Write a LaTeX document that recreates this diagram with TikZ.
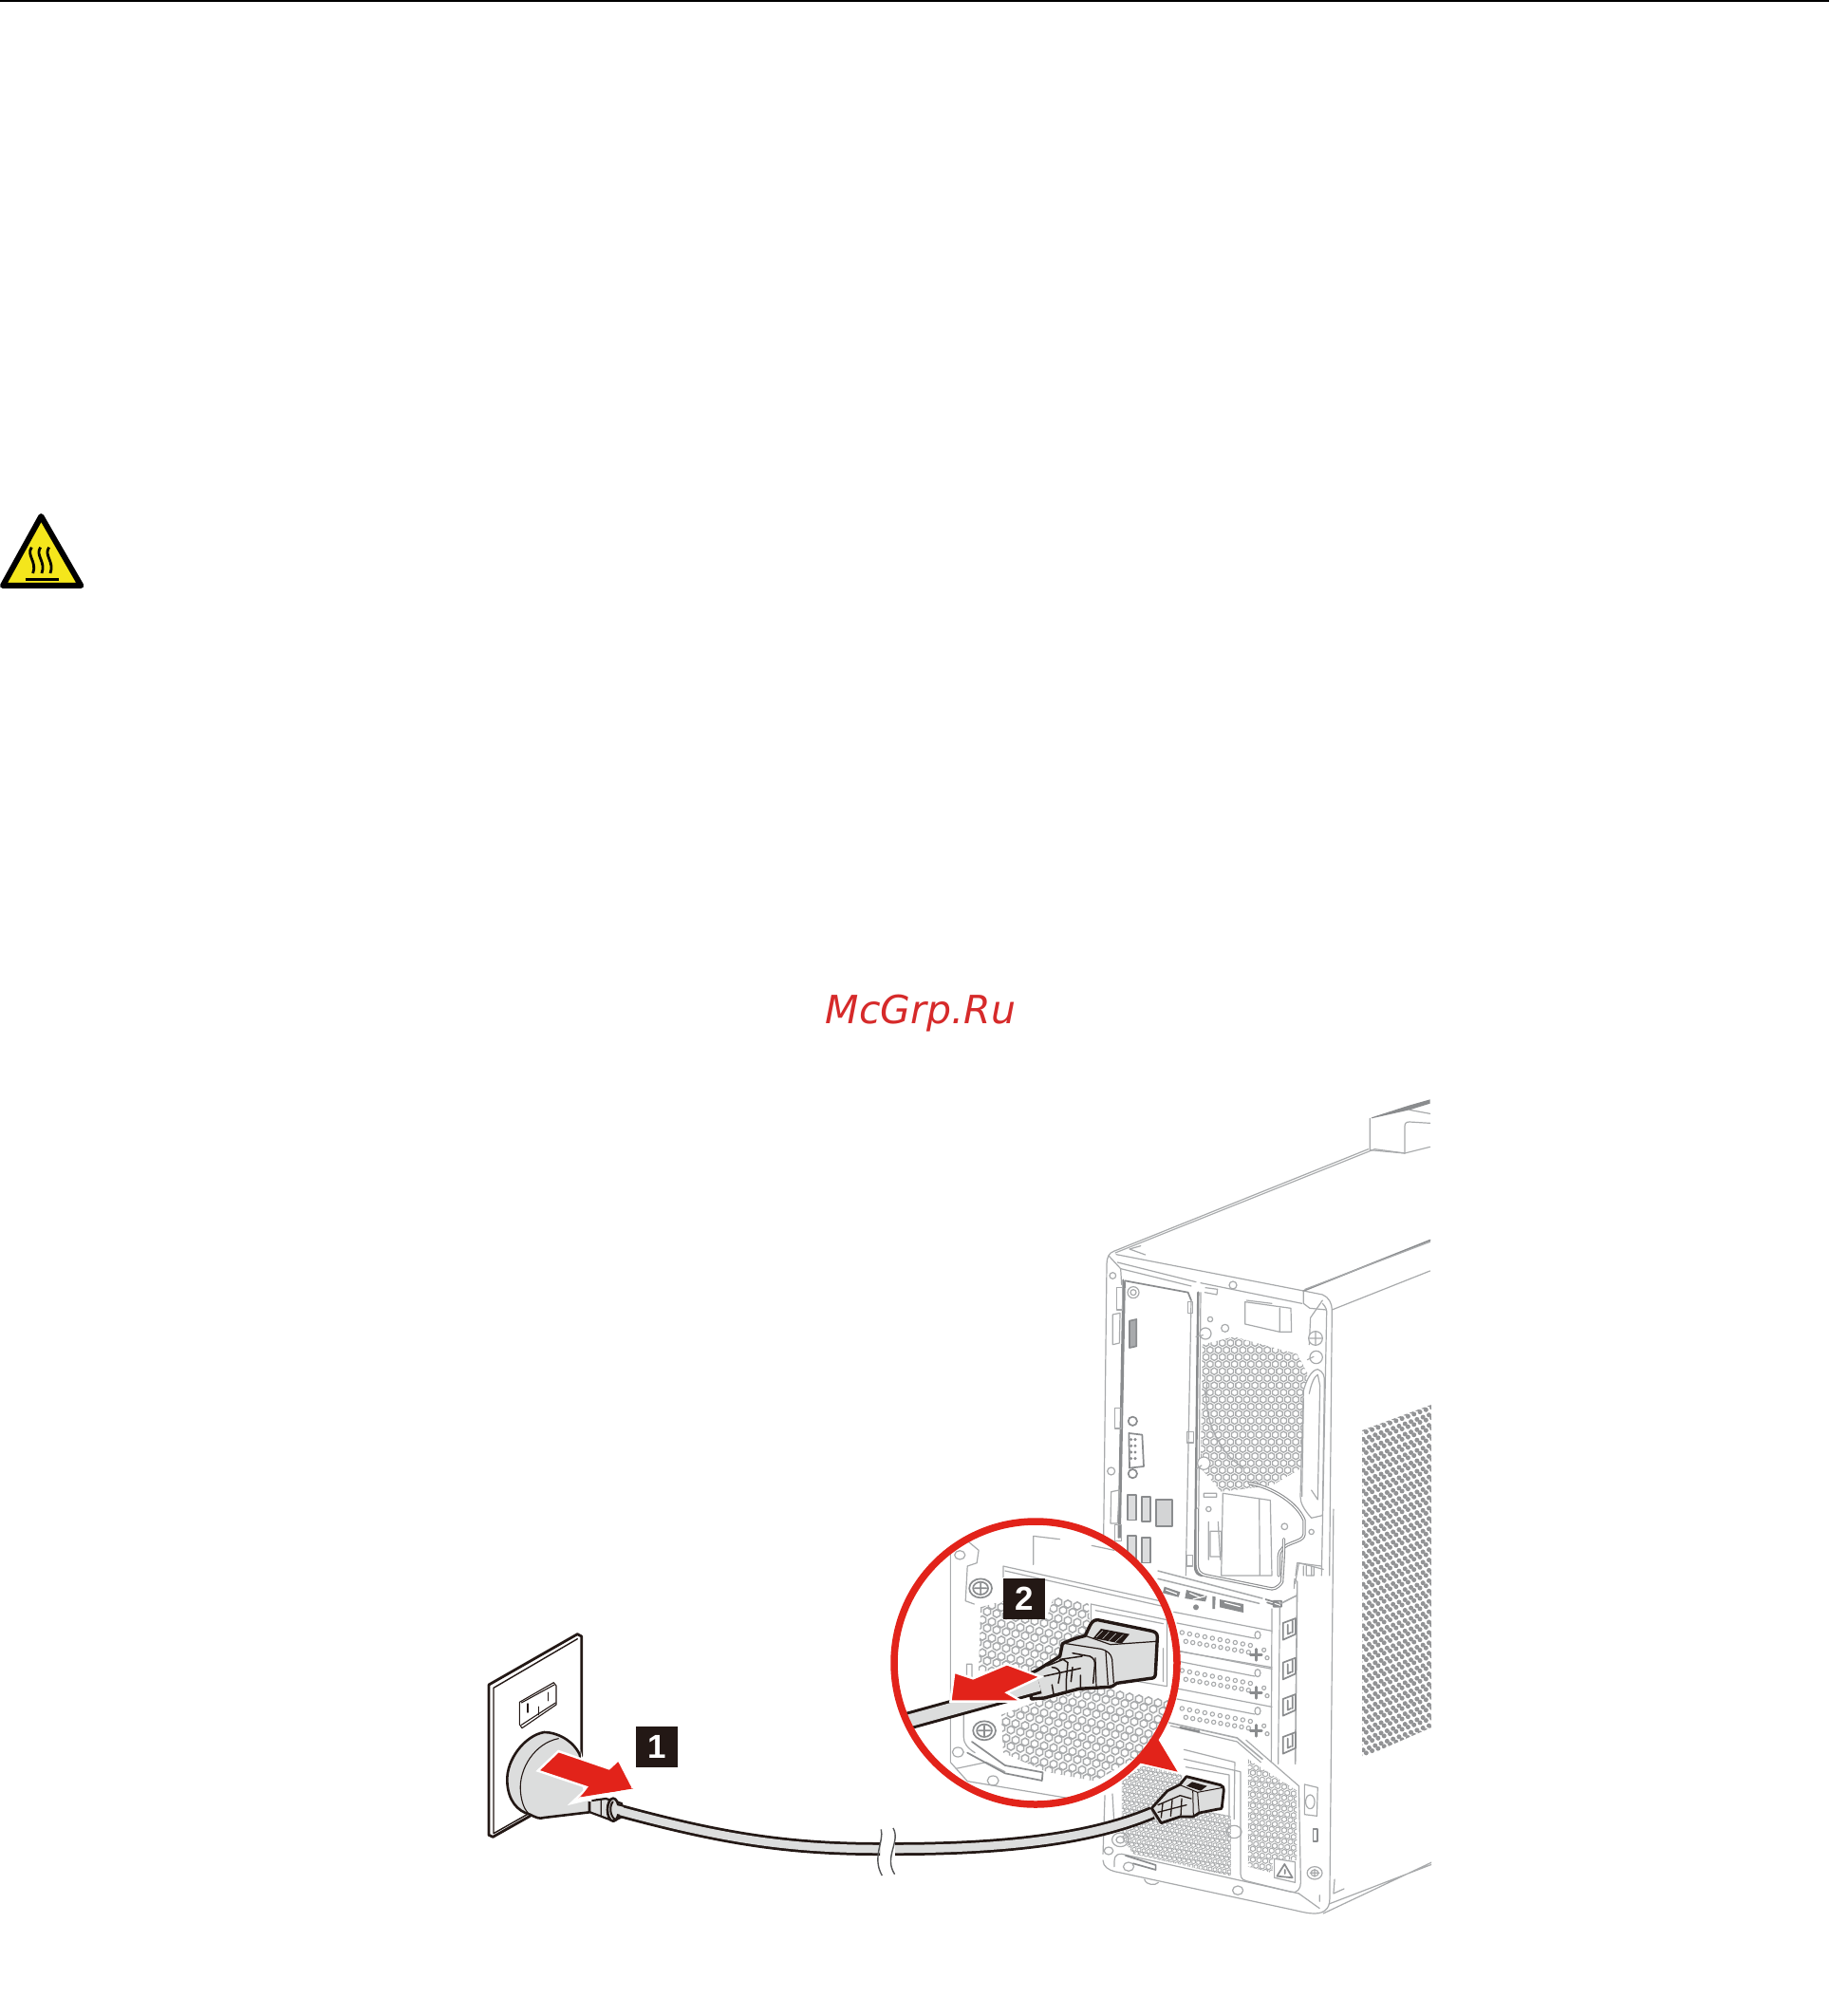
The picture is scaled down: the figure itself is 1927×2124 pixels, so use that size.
\documentclass[tikz,border=0pt]{standalone}
\usepackage{fontspec}
\newfontfamily\wmfont{DejaVu Sans}
\newfontfamily\numfont{Liberation Sans}
\definecolor{tl}{HTML}{A8AAAC}
\definecolor{tld}{HTML}{8A8C8E}
\definecolor{plg}{HTML}{DCDDDD}
\definecolor{redA}{HTML}{E2231A}
\definecolor{ink}{HTML}{231815}
\definecolor{wm}{HTML}{D62A2A}
\definecolor{warn}{HTML}{F4E61C}
\tikzset{
 Z1/.style={x=0.3333pt,y=-0.3333pt,shift={(0pt,-520pt)}},
 Z2/.style={x=0.3333pt,y=-0.3333pt,shift={(1140pt,-1140pt)}},
 Z3/.style={x=0.3968pt,y=-0.3333pt,shift={(920pt,-1590pt)}},
 Z4/.style={x=0.3333pt,y=-0.3333pt,shift={(490pt,-1700pt)}},
 Z5/.style={x=0.3333pt,y=-0.3333pt,shift={(1080pt,-1690pt)}},
 Z6/.style={x=0.3333pt,y=-0.3333pt,shift={(1220pt,-1640pt)}},
 Z7/.style={x=0.3333pt,y=-0.3333pt,shift={(1200pt,-1850pt)}},
 thin gray/.style={draw=tl,line width=1.2pt,line join=round,line cap=round},
 heavy gray/.style={draw=tld,line width=1.7pt,line join=round,line cap=round},
 ink line/.style={draw=ink,line width=2.2pt,line join=round,line cap=round},
 badge/.style={fill=ink,text=white,minimum width=44pt,minimum height=43pt,inner sep=0pt,font=\numfont\bfseries\fontsize{35}{35}\selectfont},
}
% x0,y0,cols,rows,spacing,slope,colour
\newcommand{\hexfield}[7]{%
 \pgfmathsetmacro\hr{#5*0.42}%
 \pgfmathsetmacro\hw{max(0.85,#5*0.15)}%
 \foreach \ci in {0,...,#3}{\foreach \rj in {0,...,#4}{%
  \pgfmathsetmacro\hx{#1+\ci*#5+0.5*#5*mod(\rj,2)}%
  \pgfmathsetmacro\hy{#2+\rj*#5*0.866+#6*\ci*#5}%
  \draw[#7,line width=\hw pt] (\hx,\hy) +(30:\hr)--+(90:\hr)--+(150:\hr)--+(210:\hr)--+(270:\hr)--+(330:\hr)--cycle;%
 }}}
\newcommand{\dotfield}[7]{%
 \foreach \ci in {0,...,#3}{\foreach \rj in {0,...,#4}{%
  \pgfmathsetmacro\hx{#1+\ci*#5+0.5*#5*mod(\rj,2)}%
  \pgfmathsetmacro\hy{#2+\rj*#5*0.866+#6*\ci*#5}%
  \fill[#7] (\hx,\hy) circle (2.5);%
 }}}
\begin{document}
\begin{tikzpicture}[x=1pt,y=-1pt]
\useasboundingbox (0,0) rectangle (1927,2124);
\fill[white] (0,0) rectangle (1927,2124);
\fill[black] (0,0) rectangle (1927,1.6);
% warning sign
\begin{scope}[Z1]
 \draw[fill=warn,draw=black,line width=6pt,line join=round] (130,72)--(9,291)--(256,291)--cycle;
 \draw[black,line width=3pt] (80,272)--(185,272);
 \foreach \sx in {100,128,155}{
  \draw[black,line width=2.8pt] (\sx,170) .. controls (\sx-18,195) and (\sx+18,215) .. (\sx+4,252);
 }
\end{scope}
% watermark
\node[text=wm,inner sep=0pt,font=\wmfont\itshape\fontsize{41}{48}\selectfont] (mark) at (970,1068) {McGrp.Ru};
% tower
\begin{scope}
 \clip (0,0) rectangle (1508,2124);
 % side grille
 \begin{scope}
  \clip (1435,1507)--(1508,1480)--(1508,1820)--(1435,1852)--cycle;
  \dotfield{1433}{1500}{12}{66}{6.3}{-0.37}{tld!75!tl}
 \end{scope}
 % fan mesh
 \begin{scope}
  \clip[Z2] (380,830)--(480,805)--(680,860)--(712,920)--(695,1220)--(600,1275)--(440,1295)--(375,1220)--cycle;
  \hexfield{1262}{1400}{16}{24}{8.6}{0.0}{tl}
 \end{scope}
 % PSU rear mesh
 \begin{scope}
  \clip[Z3] (660,860)--(715,810)--(820,840)--(820,940)--(950,970)--(950,1160)--(690,1090)--(660,1040)--cycle;
  \hexfield{1175}{1850}{24}{34}{5.0}{0.15}{tl}
 \end{scope}
 \begin{scope}
  \clip[Z3] (995,790)--(1125,890)--(1125,1110)--(1060,1105)--(1060,1150)--(995,1130)--cycle;
  \hexfield{1310}{1850}{12}{26}{6.6}{0.1}{tl}
 \end{scope}
 % card slots
 \begin{scope}[Z6]
  \foreach \sy in {0,120,240}{
   \foreach \i in {0,...,9}{
    \draw[thin gray,line width=1.1pt] (76+\i*24,240+\sy+\i*4.5) circle (6.5);
    \draw[thin gray,line width=1.1pt] (88+\i*22,268+\sy+\i*3.8) circle (6.5);
   }
   \draw[heavy gray,line width=2.4pt] (292,310+\sy)--(328,310+\sy) (310,292+\sy)--(310,328+\sy);
   \draw[thin gray] (335,295+\sy) circle (6) (345,320+\sy) circle (6);
   \draw[thin gray] (50,175+\sy)--(360,235+\sy) (60,210+\sy)--(305,258+\sy) (315,248+\sy) ellipse (9 and 12);
  }
  \draw[thin gray] (70,300)--(360,350);
  % rail blobs
  \draw[thin gray,line width=1.5pt] (0,45)--(330,132) (0,70)--(320,148);
  \fill[tld] (90,105)--(155,125)--(150,142)--(85,132)--cycle (195,135)--(270,150)--(270,177)--(195,160)--cycle (20,95)--(70,112)--(65,128)--(15,115)--cycle (172,125)--(182,127)--(180,165)--(172,165)--cycle (120,160) circle (9);
  \draw[white,line width=1.2pt] (100,115)--(135,130) (110,135)--(150,125) (210,145)--(260,158) (25,105)--(60,118);
  \draw[heavy gray] (340,135)--(390,150) (345,145)--(385,158) (365,140) rectangle (390,158);
  % column
  \draw[thin gray] (360,165)--(358,650) (385,160)--(380,655);
  \draw[thin gray,line width=1.6pt] (440,80)--(434,655) (385,150)--(440,122);
  \draw[thin gray] (430,100)--(432,70)--(440,80);
  \foreach \cy in {195,320,435,555}{
   \draw[heavy gray] (395,\cy+15)--(435,\cy)--(435,\cy+50)--(395,\cy+68)--cycle (410,\cy+20)--(410,\cy+50)--(420,\cy+45) (425,\cy+8)--(425,\cy+45);
  }
  \draw[thin gray,line width=1.6pt] (35,525)--(250,573)--(330,640);
  \draw[thin gray] (40,535)--(250,585)--(325,650);
  \draw[heavy gray,line width=2.2pt] (70,540)--(130,553);
 \end{scope}
 \begin{scope}[Z2]
  % handle top
  \fill[tld] (915,112)--(1030,75)--(1100,55)--(1100,68)--(1035,88)--(915,115)--cycle;
  \draw[thin gray] (910,115)--(910,215)--(1020,225)--(1100,205);
  \draw[thin gray] (1020,225)--(1020,140) .. controls (1020,130) and (1025,126) .. (1035,126)--(1100,130);
  \draw[thin gray] (1035,88)--(1100,100);
  % upper outline
  \draw[thin gray] (100,535)--(905,212) (105,540)--(925,212)--(1020,225);
  \draw[thin gray] (150,528)--(200,546) (150,528)--(185,518);
  \draw[thin gray] (100,535) .. controls (85,540) and (78,555) .. (78,575)--(68,1440);
  \draw[thin gray] (108,545)--(700,660)--(700,700)--(720,715)--(772,720);
  \draw[thin gray] (112,570)--(360,632) (122,590)--(345,645);
  \draw[thin gray] (375,635)--(695,700);
  \draw[heavy gray] (700,660)--(1100,500);
  \draw[thin gray] (705,655)--(1100,505) (790,720)--(1100,597);
  \draw[thin gray] (700,660)--(760,672) .. controls (780,680) and (790,700) .. (790,720)--(782,1560);
  \draw[thin gray] (760,700) .. controls (770,710) and (775,720) .. (773,735)--(757,1560);
  \draw[thin gray] (760,690)--(722,745)--(718,830) (85,550)--(122,590)--(125,640);
  % IO panel
  \draw[heavy gray] (130,625)--(115,1440) (135,632)--(120,1440);
  \draw[heavy gray] (135,628)--(335,665)--(345,690);
  \draw[thin gray] (345,690)--(328,1560);
  \draw[heavy gray,line width=2.4pt] (367,665)--(357,1530) .. controls (357,1550) and (365,1558) .. (380,1560);
  \draw[thin gray] (375,665)--(367,1520);
  \draw[thin gray] (335,695) rectangle (350,730) (332,1105) rectangle (352,1140) (330,1495) rectangle (350,1530);
  \draw[thin gray] (110,650) rectangle (128,720) (103,1030) rectangle (125,1095) (103,1400) rectangle (125,1450);
  \draw[thin gray] (97,735)--(120,730)--(118,825)--(97,830)--cycle;
  \draw[thin gray] (92,1295)--(118,1290)--(112,1395)--(90,1395)--cycle;
  \draw[thin gray] (97,612) circle (10) (477,642) circle (12) (405,750) circle (8) (452,778) circle (12) (92,1230) circle (12) (640,1405) circle (10) (725,1422) circle (8) (400,1350) circle (8) (162,665) circle (18) (162,665) circle (9);
  \draw[thin gray] (390,650)--(428,655)--(426,672)--(388,665);
  % ports
  \draw[heavy gray,fill=tl] (150,755)--(172,750)--(172,835)--(150,840)--cycle;
  \draw[heavy gray] (148,1110)--(190,1115)--(195,1215)--(150,1220)--cycle;
  \foreach \px in {155,168}{\foreach \py in {1130,1150,1170,1190}{\fill[tld] (\px,\py) circle (5);}}
  \draw[heavy gray] (160,1072) circle (14) (160,1238) circle (14);
  \draw[heavy gray,fill=tl!40] (145,1305) rectangle (172,1385) (188,1312) rectangle (215,1390);
  \draw[heavy gray,fill=tl!50] (233,1320) rectangle (285,1405);
  \draw[heavy gray,fill=tl!40] (145,1435) rectangle (170,1510) (188,1440) rectangle (215,1520);
  % top box
  \draw[thin gray] (515,695)--(660,715)--(662,790)--(625,790)--(515,765)--cycle (625,715)--(625,790) (520,690)--(600,700);
  % screws
  \draw[thin gray,fill=white] (390,795) circle (18) (738,810) circle (22) (740,870) circle (20) (385,1205) circle (20);
  \draw[thin gray] (738,790)--(738,830) (718,810)--(758,810) (360,805)--(382,800) (362,1222)--(378,1212) (712,878)--(732,868);
  % fan arc
  \draw[thin gray] (395,950) .. controls (380,1060) and (430,1170) .. (510,1220);
  % handle
  \draw[thin gray,fill=white] (700,975) .. controls (710,940) and (725,910) .. (745,908) .. controls (762,915) and (768,930) .. (766,950)--(760,1370)--(725,1378) .. controls (700,1350) and (690,1330) .. (690,1310)--cycle;
  \draw[thin gray] (718,985) .. controls (725,950) and (735,930) .. (745,925)--(752,960)--(745,1320) (700,1000)--(695,1310) (745,1320)--(725,1290);
  % psu box
  \draw[thin gray,fill=white] (445,1300)--(595,1322)--(600,1560)--(440,1560)--cycle (560,1318)--(562,1560);
  \draw[thin gray] (385,1300) rectangle (425,1312) (400,1390)--(400,1510) (430,1390)--(437,1510)  (405,1420) rectangle (440,1500);
  % thick curve
  \draw[draw=tld,line width=3.4pt,line cap=round,line join=round] (528,1268) .. controls (600,1280) and (680,1330) .. (702,1385)--(702,1430) .. controls (700,1460) and (625,1450) .. (622,1500)--(622,1560);
  \draw[draw=white,line width=1.2pt,line cap=round] (528,1268) .. controls (600,1280) and (680,1330) .. (702,1385)--(702,1430) .. controls (700,1460) and (625,1450) .. (622,1500)--(622,1560);
  \draw[thin gray] (680,1520)--(755,1530)(675,1560)--(680,1520) (700,1530)--(700,1560) (725,1530)--(725,1560);
 \end{scope}
 \begin{scope}[Z3]
  \draw[draw=tld,line width=3.4pt,line cap=round,line join=round] (1090,95) .. controls (1090,130) and (1090,140) .. (1085,230) .. controls (1075,250) and (1060,255) .. (1050,250)--(885,210) .. controls (865,205) and (860,195) .. (860,170)--(860,0);
  \draw[draw=white,line width=1.2pt,line cap=round] (1090,95) .. controls (1090,130) and (1090,140) .. (1085,230) .. controls (1075,250) and (1060,255) .. (1050,250)--(885,210) .. controls (865,205) and (860,195) .. (860,170)--(860,0);
  \draw[thin gray] (1120,235)--(1130,170)--(1195,190) (1150,180)--(1150,210)--(1170,210)--(1170,185);
  % lower frame
  \draw[thin gray] (990,730)--(1130,875)--(1135,1180) .. controls (1135,1200) and (1125,1215) .. (1110,1210)--(990,1175) .. controls (975,1170) and (975,1160) .. (975,1140)--(975,830)--(825,790);
  \draw[thin gray] (825,760)--(960,800)--(958,980) (830,815)--(945,840)--(945,970);
  \draw[thin gray] (1065,1105)--(1120,1115)--(1120,1180)--(1065,1165)--cycle;
  \draw[heavy gray] (1092,1122)--(1072,1160)--(1113,1165)--cycle (1093,1140)--(1093,1152);
  \draw[thin gray] (1145,870)--(1180,880)--(1178,970)--(1145,965)--cycle (1160,925) ellipse (12 and 22);
  \draw[heavy gray] (1168,1010) rectangle (1180,1050);
  \draw[thin gray] (1172,1150) circle (20) (1172,1150) circle (10) (1172,1138)--(1172,1162) (1160,1150)--(1184,1150);
  \draw[thin gray] (625,1080) circle (12) (678,1130) circle (14) (968,1205) circle (14) (958,1020) circle (20) (656,1045) circle (22) (656,1045) circle (11);
  \draw[thin gray] (610,1090)--(615,905) (635,900)--(640,1000) (610,1110) .. controls (610,1130) and (625,1140) .. (640,1145)--(1120,1268) .. controls (1160,1280) and (1190,1285) .. (1205,1262) .. controls (1212,1250) and (1212,1240) .. (1212,1220)--(1222,0);
  \draw[thin gray] (640,1130) .. controls (640,1100) and (640,1090) .. (660,1090)--(1130,1215);
  \draw[thin gray] (1185,1220)--(1185,1240) (1130,1215)--(1185,1262);
  \draw[heavy gray] (670,1095)--(750,1125)--(750,1140)--(690,1120);
  \draw[thin gray] (720,1170) .. controls (725,1190) and (750,1190) .. (757,1180);
  \draw[thin gray] (1225,1170)--(1222,1215)--(1250,1200);
  \draw[thin gray] (1195,1278)--(1485,1115) (1210,1248)--(1485,1122);
 \end{scope}
\end{scope}
% wall plate
\begin{scope}[Z4]
 \draw[ink line,line width=2.8pt,fill=white] (75,225)--(355,65)--(368,72)--(368,450)--(205,640)--(88,706)--(75,700)--cycle;
 \draw[ink line,line width=1.4pt] (90,235)--(355,80) (90,235)--(90,695) (90,695)--(205,630);
 \draw[draw=ink,line width=1.1pt,fill=white,line join=round] (172,280)--(280,218)--(288,228)--(288,288)--(180,362)--(172,350)--cycle;
 \draw[ink line,line width=1.1pt] (178,282)--(282,225) (178,352)--(286,282);
 \draw[ink line,line width=1.5pt] (198,285)--(198,312) (262,250)--(262,275) (232,295)--(232,320);
 % strain relief
 \draw[ink line,fill=plg] (370,595)--(445,585)--(495,600)--(500,640)--(470,656)--(395,628)--cycle;
 \draw[ink line,line width=1.2pt] (378,595)--(376,622) (390,592)--(392,625) (430,590)--(430,640);
\end{scope}
% cable
\coordinate (cableA) at (650,1907);
\coordinate (breakL) at (927,1948);
\coordinate (breakR) at (943,1948);
\coordinate (cableB) at (1214,1910);
\draw[ink,line width=14pt] (cableA) .. controls (760,1937) and (830,1948) .. (breakL);
\draw[plg,line width=8.5pt] (cableA) .. controls (760,1937) and (830,1948) .. (breakL);
\draw[ink,line width=14pt] (breakR) .. controls (1060,1948) and (1150,1937) .. (cableB);
\draw[plg,line width=8.5pt] (breakR) .. controls (1060,1948) and (1150,1937) .. (cableB);
\fill[white] (929,1920) rectangle (941,1980);
\begin{scope}[Z4]
 \draw[draw=tld!60!black,line width=1.4pt] (1315,682) .. controls (1325,720) and (1285,770) .. (1318,828);
 \draw[draw=tld!60!black,line width=1.4pt] (1353,678) .. controls (1378,720) and (1322,770) .. (1358,824);
 % plug body
 \draw[ink line,line width=2.6pt,fill=plg] (362,445) .. controls (340,400) and (290,375) .. (250,375) .. controls (190,385) and (130,460) .. (133,530) .. controls (135,590) and (165,625) .. (205,635) .. controls (225,645) and (235,650) .. (250,645)--(393,628)--(393,590)--cycle;
 \draw[ink line,line width=1.1pt] (295,395) .. controls (220,410) and (170,490) .. (175,560) .. controls (178,600) and (190,625) .. (205,635);
 \fill[white] (365,430)--(400,580)--(400,595)--(375,590)--cycle;
 \draw[ink line,line width=2.6pt,fill=plg] (468,620) ellipse (18 and 36);
 \draw[ink line,line width=2pt] (467,595) .. controls (455,610) and (458,640) .. (475,652);
 % arrow 1
 \draw[fill=redA,draw=white,line width=2.4pt,line join=miter] (230,497)--(295,435)--(455,490)--(485,462)--(532,553)--(335,600)--(388,550)--cycle;
 \fill[white] (532,556)--(330,602)--(370,575)--cycle;
 \fill[redA] (532,553)--(365,580)--(388,550)--(400,530)--cycle;
\end{scope}
\draw[ink,line width=14pt] (652,1907)--(cableA);
\draw[plg,line width=8.5pt] (648,1906)--(656,1908);
\node[badge] (badgeA) at (692,1840) {1};
% small plug at tower
\begin{scope}[Z7]
 \draw[ink line,line width=2.8pt,fill=plg] (130,90)--(150,65)--(258,92) .. controls (266,95) and (268,100) .. (268,108)--(262,162) .. controls (262,168) and (258,168) .. (250,168)--(190,180) .. controls (180,185) and (178,190) .. (170,192)--(130,192)--(70,212)--(40,165)--(90,110)--cycle;
 \fill[ink] (150,95)--(168,82)--(215,95)--(195,110)--cycle;
 \draw[ink line,line width=1pt] (130,92)--(185,115)--(190,180) (185,115)--(265,100) (170,108)--(172,192);
 \draw[ink line,line width=1.3pt] (60,155)--(130,125)--(165,135) (75,150)--(70,195) (105,140)--(100,190) (135,135)--(132,190) (60,178)--(150,155);
\end{scope}
% inset pointer
\begin{scope}[Z3]
 \fill[redA] (755,725)--(808,830)--(700,800)--cycle;
\end{scope}
% inset
\coordinate (insetc) at (1091,1752);
\fill[white] (insetc) circle (150);
\begin{scope}
 \clip (insetc) circle (150);
 \begin{scope}
  \clip[Z3] (285,310)--(345,290)--(345,350)--(460,345)--(490,240)--(570,270)--(578,420)--(430,525)--(280,510)--cycle;
  \hexfield{1025}{1670}{16}{22}{10.0}{0.2}{tl}
 \end{scope}
 \begin{scope}
  \clip[Z3] (340,650)--(430,610)--(620,555)--(800,600)--(790,720)--(590,860)--(460,830)--(345,770)--cycle;
  \hexfield{1050}{1760}{22}{18}{10.0}{0.2}{tl}
 \end{scope}
 \begin{scope}[Z3]
  \draw[thin gray] (205,60)--(205,800) (205,800)--(250,860)--(600,930);
  \draw[thin gray] (225,120)--(250,100)--(280,130)--(275,170)--(250,180)--(245,290)--(268,300);
  \draw[thin gray] (425,175)--(425,85)--(495,95) (580,115)--(640,130);
  \draw[thin gray] (345,180)--(780,295) (350,195)--(780,310) (345,180)--(345,215) (230,145) circle (14);
  \draw[heavy gray] (285,250) circle (30) (285,250) circle (20) (270,250)--(300,250) (285,235)--(285,265);
  \draw[heavy gray] (295,700) circle (30) (295,700) circle (20) (280,700)--(310,700) (295,685)--(295,715);
  \draw[thin gray] (240,600)--(240,720) .. controls (240,740) and (250,755) .. (270,770) (225,768) circle (15) (318,858) circle (15);
  \draw[thin gray] (248,490) rectangle (262,540) (220,820)--(300,800)--(350,830);
  \draw[heavy gray] (262,735)--(350,810)--(450,832)--(448,858)--(350,835)--(250,770);
  \draw[thin gray,fill=white] (578,300)--(780,350)--(780,560)--(578,520)--cycle;
  \draw[thin gray] (590,320)--(770,362) (770,440)--(770,545);
 \end{scope}
 \begin{scope}[Z5]
  % plug
  \draw[ink line,line width=3.4pt,fill=plg] (190,100)--(205,68) .. controls (212,55) and (218,50) .. (230,50)--(400,85) .. controls (412,88) and (418,92) .. (418,105)--(412,222) .. controls (411,232) and (405,235) .. (395,235)--(290,250) .. controls (280,255) and (278,262) .. (265,262)--(170,268)--(60,297)--(20,300)--(5,225)--(40,208)--(110,165)--(118,125) .. controls (150,110) and (170,105) .. (190,100)--cycle;
  \fill[ink] (215,108)--(240,78)--(330,95)--(305,125)--cycle;
  \draw[plg,line width=0.5pt] (225,105)--(245,85) (245,110)--(265,88) (265,115)--(288,92) (285,120)--(310,97);
  \draw[ink line,line width=1.2pt] (190,100)--(270,128) (270,128)--(415,118) (130,125)--(240,142) .. controls (262,148) and (272,158) .. (275,175)--(280,248) (222,170)--(225,262) (255,150)--(262,255);
  \draw[ink line,line width=1.5pt] (70,195)--(120,175)--(135,185)--(130,240) (85,200) .. controls (100,200) and (110,208) .. (110,222)--(105,250) (110,175)--(180,165) (150,155)--(205,165) .. controls (218,172) and (222,180) .. (220,195)--(215,250) (60,228)--(175,203) (85,255)--(90,285) (130,240)--(130,272) (175,225)--(175,265) (150,200)--(145,245);
  \coordinate (insetEnd) at (45,255);
 \end{scope}
 \begin{scope}[Z3]
  \coordinate (insetStart) at (60,680);
 \end{scope}
 \draw[ink,line width=19pt] (insetStart)--(insetEnd);
 \draw[plg,line width=13pt] (insetStart)--(insetEnd);
 \begin{scope}[Z3]
  \draw[fill=redA,draw=white,line width=2.4pt,line join=miter] (205,608)--(215,515)--(265,535)--(355,490)--(445,530)--(355,580)--(395,608)--cycle;
 \end{scope}
 \node[badge] (badgeB) at (1079,1684) {2};
\end{scope}
\draw[redA,line width=7.5pt] (insetc) circle (149);
\end{tikzpicture}
\end{document}
